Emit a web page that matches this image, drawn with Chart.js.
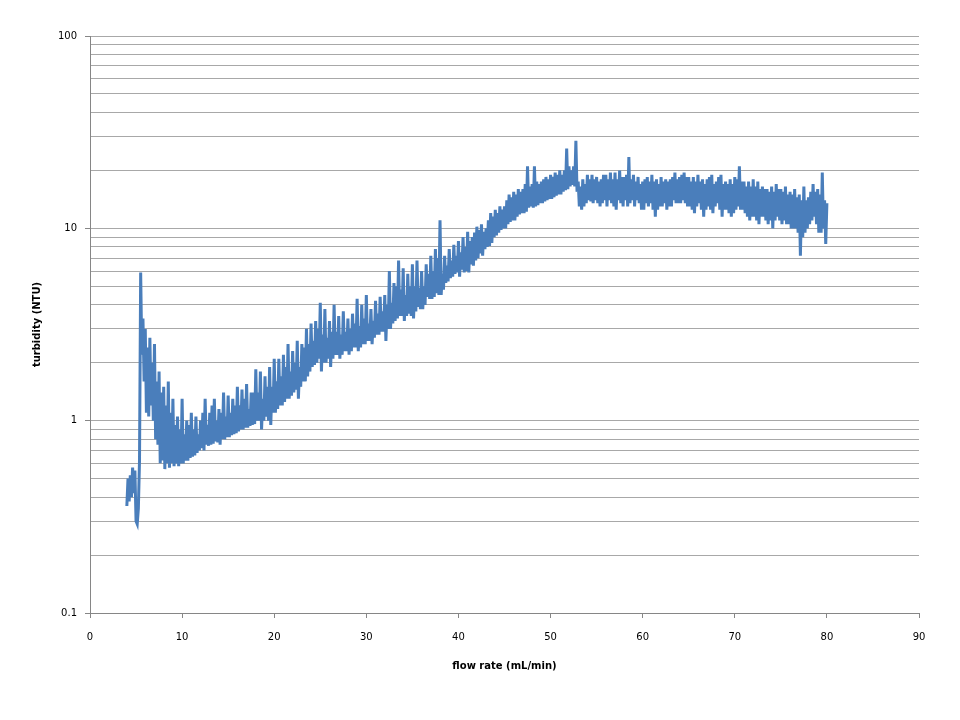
<!DOCTYPE html>
<html>
<head>
<meta charset="utf-8">
<title>turbidity vs flow rate</title>
<script src="https://cdn.jsdelivr.net/npm/chart.js@4.4.0/dist/chart.umd.min.js"></script>
<style>
  html, body { margin: 0; padding: 0; background: #ffffff; }
  #wrap { width: 960px; height: 720px; }
</style>
</head>
<body>
<div id="wrap"><canvas id="myChart" width="960" height="720"></canvas></div>
<script>
// flow rate (mL/min), every 0.125
var flowRate = [
  4, 4.125, 4.25, 4.375, 4.5, 4.625, 4.75, 4.875,
  5, 5.125, 5.25, 5.375, 5.5, 5.625, 5.75, 5.875,
  6, 6.125, 6.25, 6.375, 6.5, 6.625, 6.75, 6.875,
  7, 7.125, 7.25, 7.375, 7.5, 7.625, 7.75, 7.875,
  8, 8.125, 8.25, 8.375, 8.5, 8.625, 8.75, 8.875,
  9, 9.125, 9.25, 9.375, 9.5, 9.625, 9.75, 9.875,
  10, 10.125, 10.25, 10.375, 10.5, 10.625, 10.75, 10.875,
  11, 11.125, 11.25, 11.375, 11.5, 11.625, 11.75, 11.875,
  12, 12.125, 12.25, 12.375, 12.5, 12.625, 12.75, 12.875,
  13, 13.125, 13.25, 13.375, 13.5, 13.625, 13.75, 13.875,
  14, 14.125, 14.25, 14.375, 14.5, 14.625, 14.75, 14.875,
  15, 15.125, 15.25, 15.375, 15.5, 15.625, 15.75, 15.875,
  16, 16.125, 16.25, 16.375, 16.5, 16.625, 16.75, 16.875,
  17, 17.125, 17.25, 17.375, 17.5, 17.625, 17.75, 17.875,
  18, 18.125, 18.25, 18.375, 18.5, 18.625, 18.75, 18.875,
  19, 19.125, 19.25, 19.375, 19.5, 19.625, 19.75, 19.875,
  20, 20.125, 20.25, 20.375, 20.5, 20.625, 20.75, 20.875,
  21, 21.125, 21.25, 21.375, 21.5, 21.625, 21.75, 21.875,
  22, 22.125, 22.25, 22.375, 22.5, 22.625, 22.75, 22.875,
  23, 23.125, 23.25, 23.375, 23.5, 23.625, 23.75, 23.875,
  24, 24.125, 24.25, 24.375, 24.5, 24.625, 24.75, 24.875,
  25, 25.125, 25.25, 25.375, 25.5, 25.625, 25.75, 25.875,
  26, 26.125, 26.25, 26.375, 26.5, 26.625, 26.75, 26.875,
  27, 27.125, 27.25, 27.375, 27.5, 27.625, 27.75, 27.875,
  28, 28.125, 28.25, 28.375, 28.5, 28.625, 28.75, 28.875,
  29, 29.125, 29.25, 29.375, 29.5, 29.625, 29.75, 29.875,
  30, 30.125, 30.25, 30.375, 30.5, 30.625, 30.75, 30.875,
  31, 31.125, 31.25, 31.375, 31.5, 31.625, 31.75, 31.875,
  32, 32.125, 32.25, 32.375, 32.5, 32.625, 32.75, 32.875,
  33, 33.125, 33.25, 33.375, 33.5, 33.625, 33.75, 33.875,
  34, 34.125, 34.25, 34.375, 34.5, 34.625, 34.75, 34.875,
  35, 35.125, 35.25, 35.375, 35.5, 35.625, 35.75, 35.875,
  36, 36.125, 36.25, 36.375, 36.5, 36.625, 36.75, 36.875,
  37, 37.125, 37.25, 37.375, 37.5, 37.625, 37.75, 37.875,
  38, 38.125, 38.25, 38.375, 38.5, 38.625, 38.75, 38.875,
  39, 39.125, 39.25, 39.375, 39.5, 39.625, 39.75, 39.875,
  40, 40.125, 40.25, 40.375, 40.5, 40.625, 40.75, 40.875,
  41, 41.125, 41.25, 41.375, 41.5, 41.625, 41.75, 41.875,
  42, 42.125, 42.25, 42.375, 42.5, 42.625, 42.75, 42.875,
  43, 43.125, 43.25, 43.375, 43.5, 43.625, 43.75, 43.875,
  44, 44.125, 44.25, 44.375, 44.5, 44.625, 44.75, 44.875,
  45, 45.125, 45.25, 45.375, 45.5, 45.625, 45.75, 45.875,
  46, 46.125, 46.25, 46.375, 46.5, 46.625, 46.75, 46.875,
  47, 47.125, 47.25, 47.375, 47.5, 47.625, 47.75, 47.875,
  48, 48.125, 48.25, 48.375, 48.5, 48.625, 48.75, 48.875,
  49, 49.125, 49.25, 49.375, 49.5, 49.625, 49.75, 49.875,
  50, 50.125, 50.25, 50.375, 50.5, 50.625, 50.75, 50.875,
  51, 51.125, 51.25, 51.375, 51.5, 51.625, 51.75, 51.875,
  52, 52.125, 52.25, 52.375, 52.5, 52.625, 52.75, 52.875,
  53, 53.125, 53.25, 53.375, 53.5, 53.625, 53.75, 53.875,
  54, 54.125, 54.25, 54.375, 54.5, 54.625, 54.75, 54.875,
  55, 55.125, 55.25, 55.375, 55.5, 55.625, 55.75, 55.875,
  56, 56.125, 56.25, 56.375, 56.5, 56.625, 56.75, 56.875,
  57, 57.125, 57.25, 57.375, 57.5, 57.625, 57.75, 57.875,
  58, 58.125, 58.25, 58.375, 58.5, 58.625, 58.75, 58.875,
  59, 59.125, 59.25, 59.375, 59.5, 59.625, 59.75, 59.875,
  60, 60.125, 60.25, 60.375, 60.5, 60.625, 60.75, 60.875,
  61, 61.125, 61.25, 61.375, 61.5, 61.625, 61.75, 61.875,
  62, 62.125, 62.25, 62.375, 62.5, 62.625, 62.75, 62.875,
  63, 63.125, 63.25, 63.375, 63.5, 63.625, 63.75, 63.875,
  64, 64.125, 64.25, 64.375, 64.5, 64.625, 64.75, 64.875,
  65, 65.125, 65.25, 65.375, 65.5, 65.625, 65.75, 65.875,
  66, 66.125, 66.25, 66.375, 66.5, 66.625, 66.75, 66.875,
  67, 67.125, 67.25, 67.375, 67.5, 67.625, 67.75, 67.875,
  68, 68.125, 68.25, 68.375, 68.5, 68.625, 68.75, 68.875,
  69, 69.125, 69.25, 69.375, 69.5, 69.625, 69.75, 69.875,
  70, 70.125, 70.25, 70.375, 70.5, 70.625, 70.75, 70.875,
  71, 71.125, 71.25, 71.375, 71.5, 71.625, 71.75, 71.875,
  72, 72.125, 72.25, 72.375, 72.5, 72.625, 72.75, 72.875,
  73, 73.125, 73.25, 73.375, 73.5, 73.625, 73.75, 73.875,
  74, 74.125, 74.25, 74.375, 74.5, 74.625, 74.75, 74.875,
  75, 75.125, 75.25, 75.375, 75.5, 75.625, 75.75, 75.875,
  76, 76.125, 76.25, 76.375, 76.5, 76.625, 76.75, 76.875,
  77, 77.125, 77.25, 77.375, 77.5, 77.625, 77.75, 77.875,
  78, 78.125, 78.25, 78.375, 78.5, 78.625, 78.75, 78.875,
  79, 79.125, 79.25, 79.375, 79.5, 79.625, 79.75, 79.875,
  80
];

// turbidity (NTU), one value per flow rate above
var turbidity = [
  0.36, 0.50, 0.38, 0.52, 0.40, 0.57, 0.42, 0.55,
  0.30, 0.29, 0.35, 0.62, 5.9, 2.2, 3.4, 1.6,
  3.0, 1.1, 2.4, 1.05, 2.7, 1.2, 2.0, 1.0,
  2.5, 0.8, 1.6, 0.75, 1.8, 0.6, 1.4, 0.62,
  1.5, 0.56, 1.2, 0.6, 1.6, 0.57, 1.1, 0.6,
  1.3, 0.58, 0.95, 0.6, 1.05, 0.58, 0.9, 0.6,
  1.3, 0.6, 0.85, 0.62, 1.0, 0.62, 0.95, 0.64,
  1.1, 0.65, 0.9, 0.66, 1.05, 0.68, 0.85, 0.7,
  1.0, 0.72, 1.1, 0.7, 1.3, 0.75, 0.95, 0.74,
  1.1, 0.75, 1.2, 0.76, 1.3, 0.78, 1.0, 0.77,
  1.15, 0.75, 1.1, 0.8, 1.4, 0.8, 1.05, 0.82,
  1.35, 0.82, 1.1, 0.84, 1.3, 0.85, 1.2, 0.86,
  1.5, 0.88, 1.2, 0.9, 1.45, 0.9, 1.3, 0.92,
  1.55, 0.92, 1.15, 0.94, 1.4, 0.95, 1.4, 0.96,
  1.85, 1.0, 1.4, 1.0, 1.8, 0.9, 1.3, 1.0,
  1.7, 1.05, 1.5, 1.0, 1.9, 0.95, 1.5, 1.1,
  2.1, 1.1, 1.6, 1.15, 2.1, 1.2, 1.7, 1.2,
  2.2, 1.25, 1.9, 1.3, 2.5, 1.3, 1.8, 1.35,
  2.3, 1.4, 2.0, 1.45, 2.6, 1.3, 1.9, 1.5,
  2.5, 1.6, 2.4, 1.6, 3.0, 1.7, 2.5, 1.8,
  3.2, 1.9, 2.6, 1.95, 3.3, 2.0, 3.0, 2.1,
  4.1, 1.8, 2.8, 2.0, 3.8, 2.0, 2.7, 2.1,
  3.3, 1.9, 2.9, 2.1, 4.0, 2.2, 2.9, 2.2,
  3.5, 2.1, 2.8, 2.2, 3.7, 2.3, 2.9, 2.3,
  3.4, 2.2, 3.0, 2.3, 3.6, 2.4, 3.2, 2.4,
  4.3, 2.3, 3.1, 2.4, 4.0, 2.5, 3.4, 2.5,
  4.5, 2.6, 3.2, 2.6, 3.8, 2.5, 3.3, 2.7,
  4.2, 2.8, 3.6, 2.8, 4.4, 2.9, 3.7, 2.9,
  4.5, 2.6, 4.0, 3.0, 6.0, 3.0, 4.1, 3.2,
  5.2, 3.3, 5.0, 3.4, 6.8, 3.5, 4.8, 3.5,
  6.2, 3.3, 4.5, 3.5, 5.8, 3.6, 5.0, 3.5,
  6.5, 3.4, 5.0, 3.7, 6.8, 3.9, 4.9, 3.8,
  6.0, 3.8, 5.0, 4.0, 6.5, 4.4, 5.8, 4.3,
  7.2, 4.3, 6.0, 4.4, 7.8, 4.6, 7.0, 4.5,
  11.0, 4.5, 5.8, 4.8, 7.2, 5.2, 6.4, 5.3,
  7.8, 5.5, 6.8, 5.6, 8.2, 5.8, 7.2, 5.9,
  8.6, 5.6, 7.5, 6.1, 9.0, 5.9, 8.0, 6.0,
  9.6, 5.9, 8.6, 6.5, 9.0, 6.4, 9.5, 6.8,
  10.2, 7.0, 9.8, 7.4, 10.5, 7.2, 9.6, 7.8,
  10.0, 8.0, 11.0, 8.1, 12.0, 8.4, 11.5, 9.0,
  12.5, 9.2, 12.0, 9.5, 13.0, 9.8, 12.5, 10.0,
  13.0, 10.0, 14.0, 10.5, 15.0, 10.8, 14.5, 11.0,
  15.5, 11.0, 15.0, 11.5, 16.0, 11.8, 15.5, 12.0,
  16.0, 12.0, 17.0, 12.2, 21.0, 12.8, 16.5, 13.0,
  17.0, 12.8, 21.0, 13.0, 17.5, 13.2, 17.0, 13.5,
  17.5, 13.5, 18.0, 13.8, 18.5, 14.0, 18.0, 14.2,
  19.0, 14.2, 18.5, 14.5, 19.5, 14.8, 19.0, 15.0,
  20.0, 15.0, 19.0, 15.5, 20.0, 15.8, 26.0, 16.0,
  21.0, 16.5, 20.0, 16.8, 21.0, 16.5, 28.5, 15.5,
  17.5, 13.0, 16.5, 12.5, 18.0, 13.0, 17.0, 13.5,
  19.0, 14.0, 18.0, 13.8, 19.0, 13.5, 18.0, 14.0,
  18.5, 13.5, 17.5, 13.0, 18.0, 13.5, 19.0, 14.0,
  19.0, 13.0, 18.0, 14.0, 19.5, 13.5, 18.0, 13.0,
  19.5, 12.5, 18.0, 14.0, 20.0, 13.5, 18.5, 13.0,
  18.5, 14.0, 19.0, 13.0, 23.5, 13.5, 18.0, 14.0,
  19.0, 13.0, 17.5, 14.0, 18.5, 13.5, 17.0, 12.5,
  17.5, 12.5, 18.0, 13.5, 18.5, 13.0, 17.5, 13.5,
  19.0, 12.5, 17.5, 11.5, 18.0, 12.5, 17.0, 13.0,
  18.5, 13.0, 17.5, 13.5, 18.0, 12.5, 17.5, 13.0,
  18.0, 13.0, 18.5, 14.0, 19.5, 13.5, 18.0, 13.5,
  18.5, 13.5, 19.0, 14.0, 19.5, 13.5, 18.5, 13.0,
  18.5, 13.0, 17.5, 12.5, 18.5, 12.0, 17.5, 13.0,
  19.0, 13.5, 17.5, 12.5, 18.0, 11.5, 17.0, 12.5,
  18.0, 13.0, 18.5, 12.5, 19.0, 12.0, 17.0, 13.0,
  17.5, 13.5, 18.5, 12.5, 19.0, 11.5, 17.0, 12.5,
  17.5, 12.5, 17.0, 12.0, 18.0, 11.5, 17.0, 12.0,
  18.5, 12.5, 18.0, 13.0, 21.0, 12.5, 17.5, 12.5,
  17.5, 12.0, 16.5, 11.5, 17.5, 11.0, 16.5, 11.5,
  18.0, 11.5, 16.5, 11.0, 17.5, 10.5, 16.0, 11.5,
  16.5, 11.5, 16.0, 11.0, 16.0, 10.5, 15.5, 11.0,
  16.5, 10.0, 15.5, 11.0, 17.0, 11.5, 16.0, 11.0,
  16.0, 10.5, 15.5, 11.0, 16.5, 10.5, 15.0, 10.5,
  15.5, 10.0, 15.0, 10.0, 16.0, 10.0, 14.5, 9.5,
  15.0, 7.2, 14.0, 9.0, 16.5, 9.5, 14.0, 10.0,
  14.5, 10.5, 15.5, 11.0, 17.0, 11.5, 15.5, 10.5,
  16.0, 9.5, 15.0, 9.5, 19.5, 10.0, 14.0, 8.3,
  13.5
];

// y axis: lines at every 1..9 of each decade, labels only on the decades
var yTicks = [
  0.1, 0.2, 0.3, 0.4, 0.5, 0.6, 0.7, 0.8, 0.9,
  1, 2, 3, 4, 5, 6, 7, 8, 9,
  10, 20, 30, 40, 50, 60, 70, 80, 90,
  100
];
var yLabels = [0.1, 1, 10, 100];

var points = flowRate.map(function(x, i){ return { x: x, y: turbidity[i] }; });

var axisColor = '#868686';
var gridColor = '#a8a8a8';
var textFont = { family: 'DejaVu Sans', size: 10 };

var ctx = document.getElementById('myChart').getContext('2d');
var chart = new Chart(ctx, {
    type: 'line',
    data: {
        datasets: [{
            label: 'turbidity',
            data: points,
            borderColor: '#4a7ebb',
            borderWidth: 3,
            pointRadius: 0,
            tension: 0,
            fill: false
        }]
    },
    options: {
        responsive: false,
        animation: false,
        devicePixelRatio: 1,
        layout: { padding: { left: 0, right: 41, top: 36, bottom: 0 } },
        plugins: {
            legend: { display: false },
            tooltip: { enabled: false }
        },
        scales: {
            x: {
                type: 'linear',
                min: 0,
                max: 90,
                afterFit: function(scale){ scale.height = 107; },
                ticks: { stepSize: 10, color: '#000000', font: textFont, padding: 13, maxRotation: 0 },
                grid: { drawOnChartArea: false, tickLength: 5, tickColor: axisColor },
                border: { color: axisColor },
                title: {
                    display: true,
                    text: 'flow rate (mL/min)',
                    color: '#000000',
                    font: { family: 'DejaVu Sans', size: 10, weight: 'bold' },
                    padding: { top: 0, bottom: 48 }
                }
            },
            y: {
                type: 'logarithmic',
                min: 0.1,
                max: 100,
                afterFit: function(scale){ scale.width = 90; },
                afterBuildTicks: function(scale){
                    scale.ticks = yTicks.map(function(v){ return { value: v }; });
                },
                ticks: {
                    autoSkip: false,
                    color: '#000000',
                    font: textFont,
                    padding: 8,
                    callback: function(value){
                        return yLabels.indexOf(value) >= 0 ? String(value) : '';
                    }
                },
                grid: {
                    color: gridColor,
                    tickLength: 5,
                    tickColor: function(c){
                        return (c.tick && yLabels.indexOf(c.tick.value) >= 0) ? axisColor : 'rgba(0,0,0,0)';
                    }
                },
                border: { color: axisColor },
                title: {
                    display: true,
                    text: 'turbidity (NTU)',
                    color: '#000000',
                    font: { family: 'DejaVu Sans', size: 10, weight: 'bold' },
                    padding: { top: 31, bottom: 0 }
                }
            }
        }
    }
});
</script>
</body>
</html>
